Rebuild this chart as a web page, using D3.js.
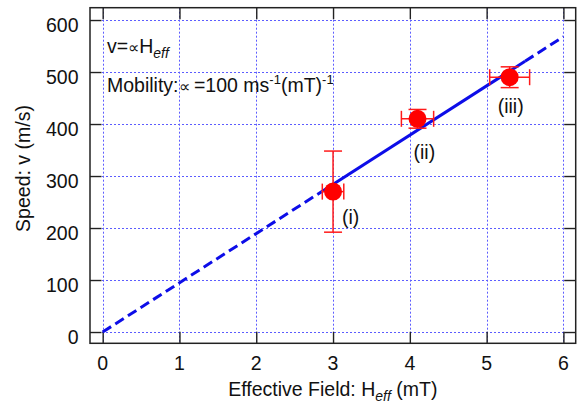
<!DOCTYPE html>
<html>
<head>
<meta charset="utf-8">
<script src="https://cdn.jsdelivr.net/npm/d3@7"></script>
<style>
  body { margin: 0; background: #fff; }
  text { font-family: "Liberation Sans", Arial, sans-serif; fill: #111; }
</style>
</head>
<body>
<svg id="chart" width="578" height="404"></svg>
<script>
// measured points
var fieldX = [3.0, 4.1, 5.3];
var speedY = [270, 410, 490];
var xErr = [0.14, 0.21, 0.26];
var yErr = [78, 18, 20];
var pointLabels = ["(i)", "(ii)", "(iii)"];
// linear fit v = mu * H
var fitX = [0, 6];
var fitY = [0, 568];
var fitSolid = [2.85, 5.5];
var xTicks = [0, 1, 2, 3, 4, 5, 6];
var yTicks = [0, 100, 200, 300, 400, 500, 600];

// note: "top" is taken by window.top, so plot box is pL/pR/pT/pB
var pL = 90, pR = 575.7, pT = 7.7, pB = 343.3;
var fontSize = 19.5;
var svg = d3.select("#chart");

var x = d3.scaleLinear().domain([-0.165, 6.16]).range([pL, pR]);
var y = d3.scaleLinear().domain([-21.7, 623.7]).range([pB, pT]);
function crisp(v){ return Math.round(v) + 0.5; }

// grid
var grid = svg.append("g").attr("stroke", "#5c5cff").attr("stroke-width", 1)
    .attr("stroke-dasharray", "2,2");
grid.selectAll(".gx").data(xTicks).enter().append("line")
    .attr("x1", function(d){ return crisp(x(d)); }).attr("x2", function(d){ return crisp(x(d)); })
    .attr("y1", pT).attr("y2", pB);
grid.selectAll(".gy").data(yTicks).enter().append("line")
    .attr("y1", function(d){ return crisp(y(d)); }).attr("y2", function(d){ return crisp(y(d)); })
    .attr("x1", pL).attr("x2", pR);

// axes with inner ticks on all four sides
var tl = 11.5;
function noDomain(g){ g.select(".domain").remove(); g.selectAll("text").remove();
  g.selectAll("line").attr("stroke", "#222").attr("stroke-width", 1.4); }
svg.append("g").attr("transform", "translate(0," + pB + ")")
    .call(d3.axisTop(x).tickValues(xTicks).tickSize(tl)).call(noDomain);
svg.append("g").attr("transform", "translate(0," + pT + ")")
    .call(d3.axisBottom(x).tickValues(xTicks).tickSize(tl)).call(noDomain);
svg.append("g").attr("transform", "translate(" + pL + ",0)")
    .call(d3.axisRight(y).tickValues(yTicks).tickSize(tl)).call(noDomain);
svg.append("g").attr("transform", "translate(" + pR + ",0)")
    .call(d3.axisLeft(y).tickValues(yTicks).tickSize(tl)).call(noDomain);

svg.append("rect").attr("x", pL).attr("y", pT)
    .attr("width", pR - pL).attr("height", pB - pT)
    .attr("fill", "none").attr("stroke", "#222").attr("stroke-width", 1.5);

// tick labels
svg.selectAll(".xl").data(xTicks).enter().append("text")
    .attr("x", function(d){ return x(d); }).attr("y", 370)
    .attr("text-anchor", "middle").style("font-size", fontSize + "px")
    .text(function(d){ return d; });
svg.selectAll(".yl").data(yTicks).enter().append("text")
    .attr("x", 78.5).attr("y", function(d){ return y(d) + 11.5; })
    .attr("text-anchor", "end").style("font-size", fontSize + "px")
    .text(function(d){ return d; });

// axis titles
var xt = svg.append("text").attr("x", (pL + pR) / 2).attr("y", 396)
    .attr("text-anchor", "middle").style("font-size", fontSize + "px");
xt.append("tspan").text("Effective Field: H");
xt.append("tspan").attr("dy", 5).style("font-size", "14px").style("font-style", "italic").text("eff");
xt.append("tspan").attr("dy", -5).text(" (mT)");

svg.append("text").attr("transform", "translate(29.5,168.5) rotate(-90)")
    .attr("text-anchor", "middle").style("font-size", fontSize + "px")
    .text("Speed: v (m/s)");

// fit line
var fitLine = d3.line().x(function(d){ return x(d[0]); }).y(function(d){ return y(d[1]); });
var slope = (fitY[1] - fitY[0]) / (fitX[1] - fitX[0]);
function fitAt(h){ return [h, fitY[0] + slope * (h - fitX[0])]; }
svg.append("path").attr("d", fitLine([fitAt(fitX[0]), fitAt(fitSolid[0])]))
    .attr("fill", "none").attr("stroke", "#0d0de8").attr("stroke-width", 3)
    .attr("stroke-dasharray", "10,5");
svg.append("path").attr("d", fitLine([fitAt(fitSolid[0]), fitAt(fitSolid[1])]))
    .attr("fill", "none").attr("stroke", "#0d0de8").attr("stroke-width", 3);
svg.append("path").attr("d", fitLine([fitAt(fitSolid[1]), fitAt(fitX[1])]))
    .attr("fill", "none").attr("stroke", "#0d0de8").attr("stroke-width", 3)
    .attr("stroke-dasharray", "10,5");

// error bars and points
var pts = fieldX.map(function(h, i){ return {h: h, v: speedY[i], ex: xErr[i], ey: yErr[i], lab: pointLabels[i]}; });
var eb = svg.append("g").attr("stroke", "#ff1a1a").attr("stroke-width", 1.5);
var cap = 9, capX = 8;
pts.forEach(function(p){
  var cx = x(p.h), cy = y(p.v);
  eb.append("line").attr("x1", cx).attr("x2", cx).attr("y1", y(p.v - p.ey)).attr("y2", y(p.v + p.ey));
  eb.append("line").attr("x1", cx - cap).attr("x2", cx + cap).attr("y1", y(p.v - p.ey)).attr("y2", y(p.v - p.ey));
  eb.append("line").attr("x1", cx - cap).attr("x2", cx + cap).attr("y1", y(p.v + p.ey)).attr("y2", y(p.v + p.ey));
  eb.append("line").attr("x1", x(p.h - p.ex)).attr("x2", x(p.h + p.ex)).attr("y1", cy).attr("y2", cy);
  eb.append("line").attr("x1", x(p.h - p.ex)).attr("x2", x(p.h - p.ex)).attr("y1", cy - capX).attr("y2", cy + capX);
  eb.append("line").attr("x1", x(p.h + p.ex)).attr("x2", x(p.h + p.ex)).attr("y1", cy - capX).attr("y2", cy + capX);
});
svg.selectAll(".pt").data(pts).enter().append("circle")
    .attr("cx", function(d){ return x(d.h); }).attr("cy", function(d){ return y(d.v); })
    .attr("r", 9).attr("fill", "#ff0000");

// point labels (offset from each point)
var labOff = [[9, 32], [-4, 40], [-12, 36]];
svg.selectAll(".pl").data(pts).enter().append("text")
    .attr("x", function(d, i){ return x(d.h) + labOff[i][0]; })
    .attr("y", function(d, i){ return y(d.v) + labOff[i][1]; })
    .style("font-size", fontSize + "px")
    .text(function(d){ return d.lab; });

// annotations
var a1 = svg.append("text").attr("x", 107).attr("y", 53.3).style("font-size", fontSize + "px");
a1.append("tspan").text("v=");
a1.append("tspan").style("font-size", "16px").text("\u221D");
a1.append("tspan").text("H");
a1.append("tspan").attr("dy", 5).style("font-size", "14px").style("font-style", "italic").text("eff");

var a2 = svg.append("text").attr("x", 107).attr("y", 91.7).style("font-size", fontSize + "px");
a2.append("tspan").text("Mobility:");
a2.append("tspan").style("font-size", "16px").text("\u221D ");
a2.append("tspan").text("=100 ms");
a2.append("tspan").attr("dy", -8).style("font-size", "13px").text("-1");
a2.append("tspan").attr("dy", 8).text("(mT)");
a2.append("tspan").attr("dy", -8).style("font-size", "13px").text("-1");
</script>
</body>
</html>
